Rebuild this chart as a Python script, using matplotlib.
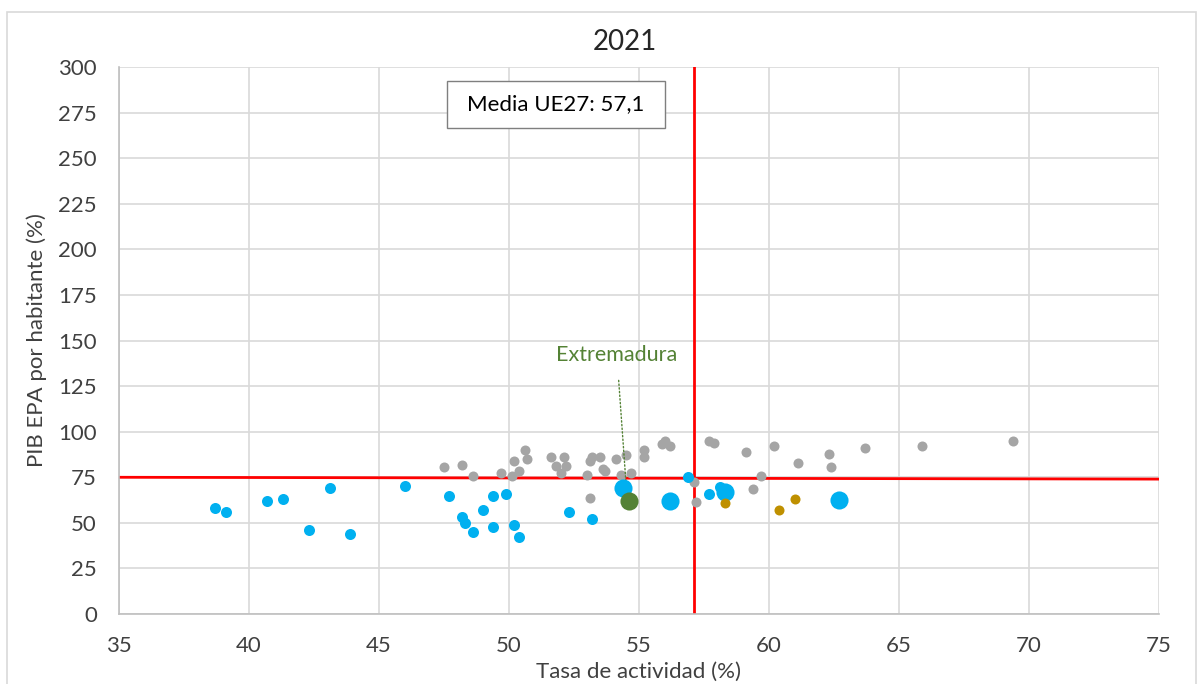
import matplotlib.pyplot as plt
from matplotlib.patches import Rectangle

plt.rcParams['font.family'] = ['Lato', 'DejaVu Sans']

# datos (tasa de actividad, PIB EPA por habitante)
gris_x = [47.5, 48.2, 48.6, 49.7, 50.1, 50.2, 50.4, 50.6, 50.7, 51.6, 51.8, 52.1, 52.2, 52.0, 53.1,
          53.2, 53.5, 53.0, 53.6, 53.7, 54.1, 54.5, 54.3, 54.7, 55.2, 55.2, 55.9, 56.0, 56.2, 57.7,
          57.9, 57.1, 57.2, 53.1, 59.1, 60.2, 61.1, 62.3, 62.4, 63.7, 59.7, 59.4, 65.9, 69.4]
gris_y = [80.7, 82.0, 75.8, 77.1, 75.8, 83.7, 78.7, 89.9, 84.8, 85.9, 81.3, 85.9, 81.1, 77.6, 83.7,
          85.9, 85.9, 76.2, 79.8, 78.2, 84.8, 87.0, 76.2, 77.6, 89.9, 86.2, 93.2, 95.0, 92.1, 95.0,
          93.9, 72.5, 61.7, 63.7, 88.8, 91.9, 82.7, 87.8, 80.7, 90.8, 75.8, 68.7, 91.9, 94.8]

azul_x = [38.7, 39.1, 40.7, 41.3, 43.1, 42.3, 43.9, 46.0, 47.7, 48.2, 48.3, 48.6, 49.0, 49.4,
          49.4, 49.9, 50.2, 50.4, 52.3, 53.2, 56.9, 57.7, 58.1]
azul_y = [57.9, 56.1, 62.1, 63.0, 68.9, 46.0, 43.8, 70.1, 64.8, 53.2, 49.9, 44.9, 57.0, 64.8,
          48.0, 66.1, 48.9, 42.0, 56.1, 52.1, 75.3, 66.1, 69.5]

azul_grande_x = [54.4, 56.2, 58.3, 62.7]
azul_grande_y = [68.9, 61.9, 67.0, 62.8]

oro_x = [58.3, 60.4, 61.0]
oro_y = [61.0, 57.0, 63.0]

extremadura = (54.6, 61.9)

media_ue = 57.1
linea_h_x = [35.0, 75.0]
linea_h_y = [75.0, 74.0]

xticks = list(range(35, 80, 5))
yticks = list(range(0, 325, 25))

fig = plt.figure(figsize=(12.03, 6.84), dpi=100)
ax = fig.add_axes([0.0989, 0.1023, 0.8645, 0.7997])

# marco exterior del grafico
fig.patches.append(Rectangle((7 / 1203, -0.01), 1189 / 1203, 1 - 12 / 684 + 0.01,
                             transform=fig.transFigure, fill=False, edgecolor='#d9d9d9', lw=1.2))

# lineas rojas de referencia
ax.plot([media_ue, media_ue], [0, 300], color='#ff0000', lw=2, zorder=2)
ax.plot(linea_h_x, linea_h_y, color='#ff0000', lw=2, zorder=2)

ax.scatter(gris_x, gris_y, s=52, color='#a5a5a5', linewidths=0, zorder=3)
ax.scatter(azul_x, azul_y, s=63, color='#00b0f0', linewidths=0, zorder=4)
ax.scatter(azul_grande_x, azul_grande_y, s=170, color='#00b0f0', linewidths=0, zorder=4)
ax.scatter(oro_x, oro_y, s=52, color='#bf9000', linewidths=0, zorder=5)
ax.scatter([extremadura[0]], [extremadura[1]], s=170, color='#548235', linewidths=0, zorder=6)

# etiqueta de Extremadura
ax.annotate('Extremadura', xy=(54.52, 68), xytext=(54.15, 142), color='#548235', fontsize=15.5,
            ha='center', va='center',
            arrowprops=dict(arrowstyle='-', color='#548235', lw=1, linestyle=':', shrinkA=9, shrinkB=0))

# cuadro de la media UE27
ax.add_patch(Rectangle((47.6, 266.8), 8.4, 25.8, facecolor='white', edgecolor='#7f7f7f', lw=1, zorder=7))
ax.text(51.8, 279.7, 'Media UE27: 57,1', fontsize=16, color='black', ha='center', va='center', zorder=8)

ax.set_xlim(35, 75)
ax.set_ylim(0, 300)
ax.set_xticks(xticks)
ax.set_yticks(yticks)
ax.tick_params(length=0, labelsize=16, labelcolor='#404040', pad=16)
ax.grid(True, color='#d9d9d9', lw=1.2, zorder=0)
ax.set_axisbelow(True)
for s in ['top', 'right']:
    ax.spines[s].set_visible(False)
for s in ['left', 'bottom']:
    ax.spines[s].set_color('#bfbfbf')
    ax.spines[s].set_linewidth(1.2)

ax.set_title('2021', fontsize=20, color='#262626', pad=12, x=0.4865)
ax.set_xlabel('Tasa de actividad (%)', fontsize=16, color='#404040', labelpad=4)
ax.set_ylabel('PIB EPA por habitante (%)', fontsize=16, color='#404040', labelpad=8)

fig.savefig('out.png', dpi=100)
